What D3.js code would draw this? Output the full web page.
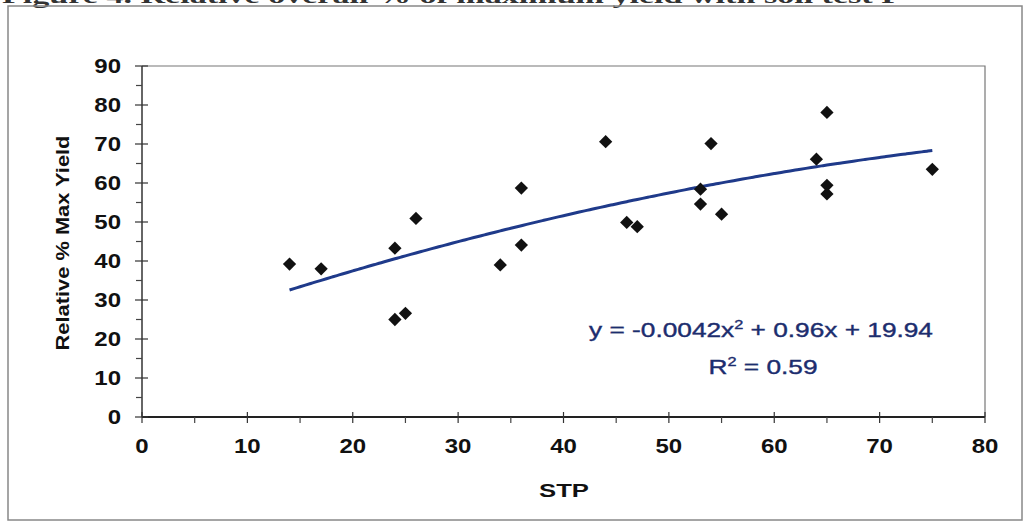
<!DOCTYPE html>
<html lang="en">
<head>
    <meta charset="utf-8">
    <title>Relative % Max Yield vs STP</title>
    <script type="text/javascript" src="https://d3js.org/d3.v7.min.js"></script>
    <style>
        html, body {
            margin: 0;
            padding: 0;
            background: #fff;
        }
        text {
            font-family: Arial, "Liberation Sans", sans-serif;
        }
        .tick-label {
            font-size: 20px;
            font-weight: bold;
            fill: #111;
        }
        .axis-title {
            font-size: 19px;
            font-weight: bold;
            fill: #111;
        }
        .eq {
            font-size: 21px;
            fill: #1c2d6e;
            stroke: #1c2d6e;
            stroke-width: 0.4px;
        }
    </style>
</head>
<body>
<script type="text/javascript">
    // data
    var stp   = [14, 17, 24, 24, 25, 26, 34, 36, 36, 44, 46, 47, 53, 53, 54, 55, 64, 65, 65, 65, 75];
    var yield_ = [39.2, 38.0, 43.3, 25.0, 26.6, 50.9, 39.0, 58.7, 44.1, 70.6, 49.9, 48.8, 58.4, 54.6, 70.1, 52.0, 66.1, 78.1, 59.4, 57.2, 63.5];

    // polynomial trendline coefficients shown on the chart: a*x^2 + b*x + c
    var trendCoef = [-0.0042, 0.96, 19.94];
    var trendRange = [14, 75];

    var xTicks = [0, 10, 20, 30, 40, 50, 60, 70, 80];
    var yTicks = [0, 10, 20, 30, 40, 50, 60, 70, 80, 90];

    var W = 1025, H = 524;
    var plotL = 142, plotR = 985, plotT = 66, plotB = 417;

    var svg = d3.select("body").append("svg").attr("width", W).attr("height", H);

    // text stretched a bit wider, like the scanned original
    function wideText(cls, tx, ty, sx, anchor, str) {
        return svg.append("text").attr("class", cls)
            .attr("transform", "translate(" + tx + "," + ty + ") scale(" + sx + ",1)")
            .attr("text-anchor", anchor).text(str);
    }

    // cut-off caption at the very top of the scan
    svg.append("text")
        .attr("x", 2).attr("y", 3)
        .attr("textLength", 900).attr("lengthAdjust", "spacingAndGlyphs")
        .style("font-family", "'Liberation Serif', 'DejaVu Serif', serif")
        .style("font-size", "21px").style("font-weight", "bold")
        .attr("fill", "#333")
        .text("Figure 4. Relative overall % of maximum yield with soil test P");

    // outer frame
    svg.append("rect")
        .attr("x", 8).attr("y", 6).attr("width", 1014).attr("height", 514)
        .attr("fill", "none").attr("stroke", "#888").attr("stroke-width", 1.5);

    var x = d3.scaleLinear().domain([0, 80]).range([plotL, plotR]);
    var y = d3.scaleLinear().domain([0, 90]).range([plotB, plotT]);

    // plot area border (top and right)
    svg.append("path")
        .attr("d", "M" + x(0) + "," + y(90) + "H" + x(80) + "V" + y(0))
        .attr("fill", "none").attr("stroke", "#777").attr("stroke-width", 1.2);

    // axis lines
    svg.append("line").attr("x1", x(0)).attr("x2", x(0)).attr("y1", y(0)).attr("y2", y(90))
        .attr("stroke", "#333").attr("stroke-width", 1.5);
    svg.append("line").attr("x1", x(0)).attr("x2", x(80)).attr("y1", y(0)).attr("y2", y(0))
        .attr("stroke", "#222").attr("stroke-width", 2);

    // y ticks: major crossing, minor outside
    yTicks.forEach(function(v) {
        svg.append("line").attr("x1", x(0) - 7).attr("x2", x(0) + 6)
            .attr("y1", y(v)).attr("y2", y(v)).attr("stroke", "#333").attr("stroke-width", 1.2);
        if (v < 90) {
            svg.append("line").attr("x1", x(0) - 6).attr("x2", x(0))
                .attr("y1", y(v + 5)).attr("y2", y(v + 5)).attr("stroke", "#444").attr("stroke-width", 1.2);
        }
        wideText("tick-label", 121, y(v) + 7, 1.2, "end", v);
    });

    // x ticks: major crossing, minor below
    xTicks.forEach(function(v) {
        svg.append("line").attr("x1", x(v)).attr("x2", x(v))
            .attr("y1", y(0) - 5).attr("y2", y(0) + 6).attr("stroke", "#333").attr("stroke-width", 1.2);
        if (v < 80) {
            svg.append("line").attr("x1", x(v + 5)).attr("x2", x(v + 5))
                .attr("y1", y(0)).attr("y2", y(0) + 6).attr("stroke", "#444").attr("stroke-width", 1.2);
        }
        wideText("tick-label", x(v), 453, 1.2, "middle", v);
    });

    // axis titles
    wideText("axis-title", 564, 497, 1.35, "middle", "STP");
    svg.append("text").attr("class", "axis-title")
        .attr("transform", "translate(69,243) rotate(-90) scale(1.15,1)")
        .attr("text-anchor", "middle").text("Relative % Max Yield");

    // trendline from the displayed coefficients
    var trendX = d3.range(trendRange[0], trendRange[1] + 0.001, 0.5);
    var line = d3.line()
        .x(function(d) { return x(d); })
        .y(function(d) { return y(trendCoef[0] * d * d + trendCoef[1] * d + trendCoef[2]); })
        .curve(d3.curveMonotoneX);
    svg.append("path")
        .datum(trendX)
        .attr("d", line)
        .attr("fill", "none").attr("stroke", "#1f3a8a").attr("stroke-width", 3);

    // data points (square diamonds)
    var marker = d3.symbol().type(d3.symbolSquare).size(88);
    svg.selectAll("path.pt")
        .data(stp.map(function(d, i) { return [d, yield_[i]]; }))
        .enter().append("path")
        .attr("class", "pt")
        .attr("d", marker)
        .attr("transform", function(d) { return "translate(" + x(d[0]) + "," + y(d[1]) + ") rotate(45)"; })
        .attr("fill", "#111");

    // equation
    var eq = svg.append("text").attr("class", "eq")
        .attr("transform", "translate(761,337) scale(1.25,1)").attr("text-anchor", "middle");
    eq.append("tspan").text("y = -0.0042x");
    eq.append("tspan").attr("dy", -8).style("font-size", "13px").text("2");
    eq.append("tspan").attr("dy", 8).text(" + 0.96x + 19.94");

    var r2 = svg.append("text").attr("class", "eq")
        .attr("transform", "translate(763,374) scale(1.25,1)").attr("text-anchor", "middle");
    r2.append("tspan").text("R");
    r2.append("tspan").attr("dy", -8).style("font-size", "13px").text("2");
    r2.append("tspan").attr("dy", 8).text(" = 0.59");
</script>
</body>
</html>
